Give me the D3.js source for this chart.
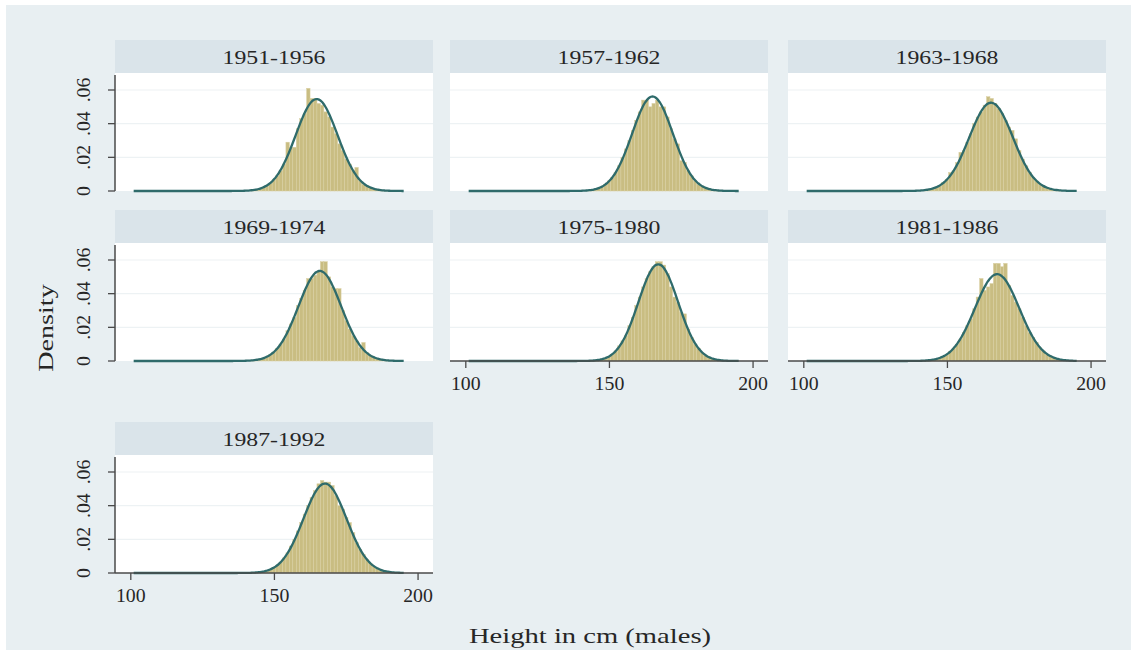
<!DOCTYPE html>
<html>
<head>
<meta charset="utf-8">
<script src="https://cdn.jsdelivr.net/npm/d3@7"></script>
<style>
  body { margin: 0; background: #fff; }
  svg text { font-family: "Liberation Serif", "Times New Roman", serif; fill: #262626; }
</style>
</head>
<body>
<div id="graf"></div>
<script>
// I. Datos
periodos = ['1951-1956', '1957-1962', '1963-1968', '1969-1974', '1975-1980', '1981-1986', '1987-1992']

// histograma: barras de 1.2 cm desde 142 cm
inicioBins = 142
anchoBin = 1.2
dens_1951 = [0.0005,0.0008,0.0012,0.002,0.003,0.0045,0.007,0.009,0.012,0.016,0.029,0.026,0.026,0.037,0.043,0.046,0.061,0.055,0.055,0.052,0.051,0.047,0.044,0.038,0.034,0.028,0.024,0.019,0.016,0.012,0.014,0.006,0.004,0.003,0.002,0.0012,0.0008,0.0005,0.0003,0.0002]
dens_1957 = [0.0004,0.0006,0.001,0.0018,0.0025,0.004,0.006,0.008,0.011,0.015,0.02,0.025,0.03,0.036,0.042,0.047,0.054,0.054,0.05,0.052,0.054,0.05,0.05,0.044,0.037,0.031,0.028,0.018,0.017,0.012,0.009,0.006,0.004,0.003,0.002,0.0012,0.0008,0.0005,0.0003,0.0002]
dens_1963 = [0.0006,0.001,0.0015,0.0023,0.0034,0.005,0.007,0.011,0.012,0.017,0.023,0.024,0.029,0.034,0.04,0.044,0.047,0.051,0.056,0.055,0.052,0.049,0.046,0.042,0.038,0.036,0.031,0.024,0.019,0.015,0.011,0.008,0.006,0.004,0.003,0.002,0.0013,0.0008,0.0005,0.0003]
dens_1969 = [0.0004,0.0007,0.0011,0.0017,0.0025,0.0037,0.0053,0.0075,0.010,0.013,0.018,0.022,0.026,0.033,0.037,0.042,0.049,0.049,0.051,0.053,0.059,0.059,0.050,0.044,0.043,0.043,0.030,0.024,0.019,0.015,0.012,0.008,0.011,0.005,0.0033,0.0022,0.0015,0.0009,0.0006,0.0004]
dens_1975 = [0.0001,0.0002,0.0004,0.0006,0.0011,0.0017,0.0027,0.004,0.006,0.009,0.012,0.015,0.021,0.026,0.033,0.038,0.044,0.049,0.053,0.056,0.059,0.059,0.057,0.052,0.044,0.038,0.035,0.029,0.028,0.019,0.014,0.010,0.0075,0.005,0.0035,0.0023,0.0015,0.0009,0.0005,0.0003]
dens_1981 = [0.0003,0.0005,0.0008,0.0012,0.0019,0.0028,0.004,0.0056,0.0076,0.010,0.013,0.017,0.021,0.025,0.031,0.038,0.049,0.042,0.044,0.046,0.058,0.058,0.056,0.058,0.045,0.039,0.035,0.031,0.026,0.021,0.017,0.014,0.011,0.008,0.006,0.004,0.003,0.002,0.0013,0.0008]
dens_1987 = [0.0002,0.0003,0.0006,0.0009,0.0014,0.0021,0.0032,0.0046,0.0064,0.009,0.012,0.016,0.020,0.025,0.030,0.035,0.040,0.045,0.049,0.053,0.055,0.054,0.054,0.052,0.046,0.040,0.038,0.033,0.030,0.024,0.018,0.014,0.011,0.008,0.0058,0.004,0.0028,0.0019,0.0012,0.0008]
densidades = [dens_1951, dens_1957, dens_1963, dens_1969, dens_1975, dens_1981, dens_1987]

mediaAjuste = [164.7, 165.0, 165.2, 165.8, 167.0, 167.3, 167.6]
desvAjuste  = [7.3, 7.1, 7.6, 7.45, 6.94, 7.73, 7.5]
rangoCurva  = [101, 195]

ticksX = [100, 150, 200]
ticksY = [0, 0.02, 0.04, 0.06]
etiquetasY = ['0', '.02', '.04', '.06']

tituloX = 'Height in cm (males)'
tituloY = 'Density'

// II. Configuración
ancho_total = 1137
alto_total = 654

svg = d3.select('#graf').append('svg')
        .attr('width', ancho_total)
        .attr('height', alto_total)

svg.append('rect')
   .attr('x', 6).attr('y', 5)
   .attr('width', 1125).attr('height', 645)
   .attr('fill', '#e8eff2')

colX = [115, 450, 788]
ancho = 318
altoEncabezado = 33
altoPanel = 118
filaY = [40]
nCols = 3
nFilas = Math.ceil(periodos.length / nCols)
tieneEjeX = i => i + nCols >= periodos.length
for (let r = 1; r < nFilas; r++) {
  let conEje = d3.range((r - 1) * nCols, r * nCols).some(i => i < periodos.length && tieneEjeX(i))
  filaY.push(filaY[r - 1] + 170 + (conEje ? 42 : 0))
}

x = d3.scaleLinear().domain([94.5, 205.2]).range([0, ancho])
y = d3.scaleLinear().domain([0, 0.06]).range([altoPanel, altoPanel - 101])

linea = d3.line()
          .x(d => x(d[0]))
          .y(d => y(d[1]))
          .curve(d3.curveBasis)

function texto(g, txt, px, py, size, sx, rot) {
  return g.append('text')
          .attr('transform', `translate(${px},${py}) rotate(${rot || 0}) scale(${sx},1)`)
          .attr('text-anchor', 'middle')
          .style('font-size', size + 'px')
          .text(txt)
}

periodos.forEach((p, i) => {
  col = i % nCols
  fila = Math.floor(i / nCols)
  g = svg.append('g')
         .attr('transform', `translate(${colX[col]}, ${filaY[fila]})`)

  g.append('rect')
   .attr('width', ancho).attr('height', altoEncabezado)
   .attr('fill', '#dae4ea')
  texto(g, p, ancho / 2, 23.5, 19, 1.25)

  pg = g.append('g').attr('transform', `translate(0, ${altoEncabezado})`)
  pg.append('rect')
    .attr('width', ancho).attr('height', altoPanel)
    .attr('fill', '#fff')

  pg.selectAll('.grid')
    .data(ticksY.slice(1))
    .enter().append('line')
      .attr('x1', 0).attr('x2', ancho)
      .attr('y1', d => y(d)).attr('y2', d => y(d))
      .attr('stroke', '#edf2f4').attr('stroke-width', 1.2)

  bins = densidades[i].map((d, k) => ({ x0: inicioBins + k * anchoBin, v: d }))
  pg.selectAll('.barra')
    .data(bins)
    .enter().append('rect')
      .attr('x', d => x(d.x0))
      .attr('width', x(anchoBin) - x(0))
      .attr('y', d => y(d.v))
      .attr('height', d => y(0) - y(d.v))
      .attr('fill', '#c9bd82')
      .attr('stroke', '#d9d0a3')
      .attr('stroke-width', 0.5)

  // densidad normal con media y desviación ajustadas
  m = mediaAjuste[i]; s = desvAjuste[i]
  puntos = d3.range(rangoCurva[0], rangoCurva[1] + 0.01, 0.5)
             .map(v => [v, Math.exp(-0.5 * ((v - m) / s) ** 2) / (s * Math.sqrt(2 * Math.PI))])
  pg.append('path')
    .datum(puntos)
    .attr('d', linea)
    .attr('fill', 'none')
    .attr('stroke', '#2f6b6b')
    .attr('stroke-width', 2.3)

  if (col == 0) {
    pg.append('line')
      .attr('x1', 0).attr('x2', 0)
      .attr('y1', 2).attr('y2', altoPanel)
      .attr('stroke', '#4a4a4a').attr('stroke-width', 1.5)
    ticksY.forEach((t, k) => {
      pg.append('line')
        .attr('x1', -7).attr('x2', 0)
        .attr('y1', y(t)).attr('y2', y(t))
        .attr('stroke', '#4a4a4a').attr('stroke-width', 1.3)
      texto(pg, etiquetasY[k], -25, y(t), 18, 1.1, -90)
    })
  }

  if (tieneEjeX(i)) {
    pg.append('line')
      .attr('x1', 0).attr('x2', ancho)
      .attr('y1', altoPanel).attr('y2', altoPanel)
      .attr('stroke', '#4a4a4a').attr('stroke-width', 1.5)
    ticksX.forEach(t => {
      pg.append('line')
        .attr('x1', x(t)).attr('x2', x(t))
        .attr('y1', altoPanel).attr('y2', altoPanel + 7)
        .attr('stroke', '#4a4a4a').attr('stroke-width', 1.3)
      texto(pg, t, x(t), altoPanel + 29, 18, 1.1)
    })
  }
})

texto(svg, tituloY, 53, 328, 22, 1.28, -90)
texto(svg, tituloX, 590, 643, 22, 1.3)
</script>
</body>
</html>
